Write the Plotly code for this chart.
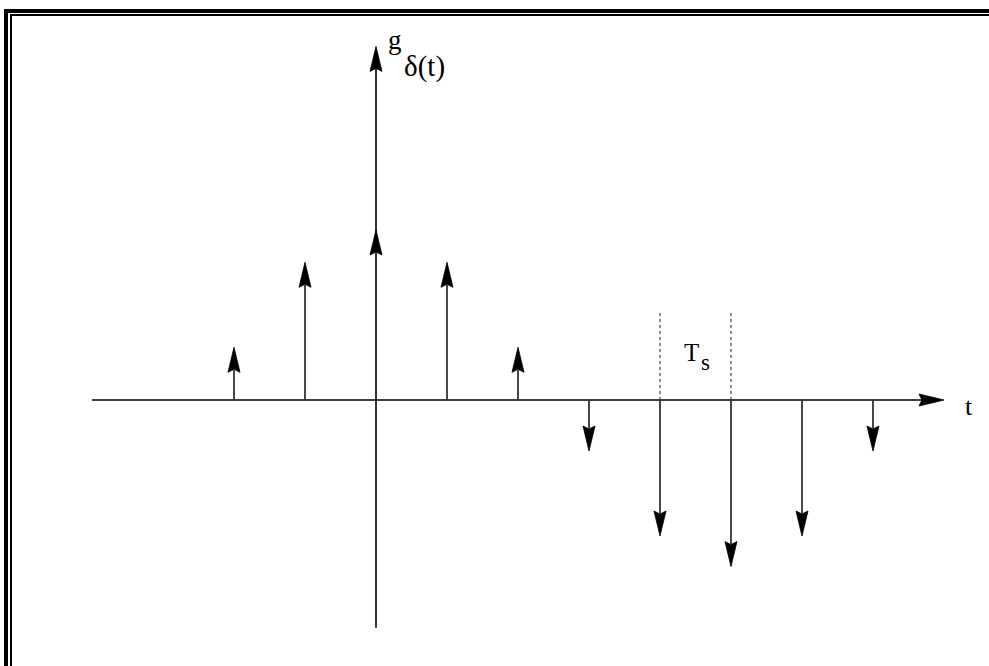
import plotly.graph_objects as go

# Sampled signal g_delta(t): impulse times (in units of Ts) and weights
sample_times = [-2, -1, 0, 1, 2, 3, 4, 5, 6, 7]
sample_values = [0.31, 0.81, 1.0, 0.81, 0.31, -0.30, -0.80, -0.98, -0.80, -0.30]

# Axis extents
t_axis = [-4.0, 8.0]
g_axis = [-1.34, 2.08]

# Ts spacing guide (between two neighbouring samples)
ts_span = [4, 5]
ts_guide_height = 0.52

W, H = 989, 666
x_range = [-5.296, 8.634]
y_range = [-1.5647, 2.3529]
sx = W / (x_range[1] - x_range[0])   # px per t unit
sy = H / (y_range[1] - y_range[0])   # px per g unit

HEAD_LEN, HEAD_HALF, HEAD_NOTCH = 25, 6, 3


def head_vertical(x, y, up=True):
    s = 1 if up else -1
    back = y - s * HEAD_LEN / sy
    notch = y - s * (HEAD_LEN - HEAD_NOTCH) / sy
    xs = [x, x + HEAD_HALF / sx, x, x - HEAD_HALF / sx, x]
    ys = [y, back, notch, back, y]
    return xs, ys, notch


def head_horizontal(x, y):
    back = x - HEAD_LEN / sx
    notch = x - (HEAD_LEN - HEAD_NOTCH) / sx
    xs = [x, back, notch, back, x]
    ys = [y, y + HEAD_HALF / sy, y, y - HEAD_HALF / sy, y]
    return xs, ys, notch


fig = go.Figure()

# Axes
hx, hy, h_notch = head_horizontal(t_axis[1], 0)
vx, vy, v_notch = head_vertical(0, g_axis[1], up=True)
fig.add_trace(go.Scatter(x=[t_axis[0], h_notch], y=[0, 0], mode="lines",
                         line=dict(color="black", width=1.6), hoverinfo="skip"))
fig.add_trace(go.Scatter(x=[0, 0], y=[g_axis[0], v_notch], mode="lines",
                         line=dict(color="black", width=1.6), hoverinfo="skip"))
for xs, ys in [(hx, hy), (vx, vy)]:
    fig.add_trace(go.Scatter(x=xs, y=ys, mode="lines", fill="toself",
                             fillcolor="black", line=dict(color="black", width=0.8),
                             hoverinfo="skip"))

# Ts guides
for t in ts_span:
    fig.add_trace(go.Scatter(x=[t, t], y=[0, ts_guide_height], mode="lines",
                             line=dict(color="#444", width=1.2, dash="dot"),
                             hoverinfo="skip"))

# Impulses
stem_x, stem_y = [], []
for t, v in zip(sample_times, sample_values):
    xs, ys, notch = head_vertical(t, v, up=v > 0)
    stem_x += [t, t, None]
    stem_y += [0, notch, None]
    fig.add_trace(go.Scatter(x=xs, y=ys, mode="lines", fill="toself",
                             fillcolor="black", line=dict(color="black", width=0.8),
                             hoverinfo="skip"))
fig.add_trace(go.Scatter(x=stem_x, y=stem_y, mode="lines",
                         line=dict(color="#333", width=1.8), hoverinfo="skip"))

serif = "Liberation Serif, DejaVu Serif, serif"
annotations = [
    dict(x=0.27, y=2.12, xref="x", yref="y", text="g", showarrow=False,
         font=dict(family=serif, size=27, color="black")),
    dict(x=0.69, y=1.96, xref="x", yref="y", text="δ(t)", showarrow=False,
         font=dict(family=serif, size=29, color="black")),
    dict(x=4.45, y=0.28, xref="x", yref="y", text="T", showarrow=False,
         font=dict(family=serif, size=25, color="black")),
    dict(x=4.64, y=0.22, xref="x", yref="y", text="s", showarrow=False,
         font=dict(family=serif, size=23, color="black")),
    dict(x=8.35, y=-0.04, xref="x", yref="y", text="t", showarrow=False,
         font=dict(family=serif, size=26, color="black")),
]

# Frame (outer heavy rule and inner thin rule on top and left edges)
shapes = [
    dict(type="line", xref="paper", yref="paper", x0=6 / W, x1=1, y0=1 - 11 / H, y1=1 - 11 / H,
         line=dict(color="black", width=4)),
    dict(type="line", xref="paper", yref="paper", x0=6 / W, x1=6 / W, y0=0, y1=1 - 9 / H,
         line=dict(color="black", width=4)),
    dict(type="line", xref="paper", yref="paper", x0=10 / W, x1=1, y0=1 - 15 / H, y1=1 - 15 / H,
         line=dict(color="black", width=2)),
    dict(type="line", xref="paper", yref="paper", x0=11 / W, x1=11 / W, y0=0, y1=1 - 14 / H,
         line=dict(color="black", width=2)),
]

fig.update_layout(
    width=W, height=H, autosize=False,
    margin=dict(l=0, r=0, t=0, b=0, pad=0),
    paper_bgcolor="white", plot_bgcolor="white",
    showlegend=False,
    xaxis=dict(range=x_range, visible=False, fixedrange=True),
    yaxis=dict(range=y_range, visible=False, fixedrange=True),
    annotations=annotations, shapes=shapes,
)

fig.write_html("out.html", config={"displayModeBar": False})
